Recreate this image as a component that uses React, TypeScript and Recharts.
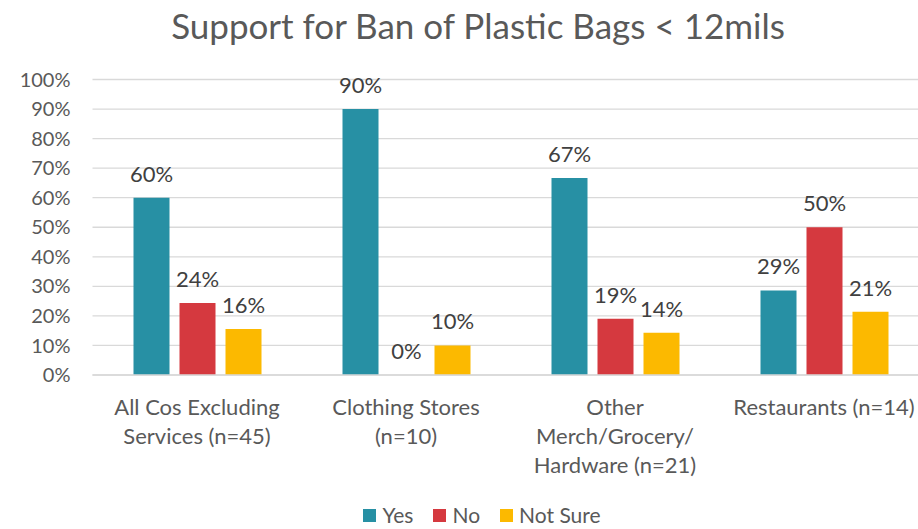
import React from "react";
import { BarChart, Bar, XAxis, YAxis, CartesianGrid, Legend, LabelList } from "recharts";

const categories = [
  "All Cos Excluding Services (n=45)",
  "Clothing Stores (n=10)",
  "Other Merch/Grocery/Hardware (n=21)",
  "Restaurants (n=14)",
];
const categoryLines = [
  ["All Cos Excluding", "Services (n=45)"],
  ["Clothing Stores", "(n=10)"],
  ["Other", "Merch/Grocery/", "Hardware (n=21)"],
  ["Restaurants (n=14)"],
];
const yesValues = [0.6, 0.9, 0.667, 0.286];
const noValues = [0.244, 0, 0.19, 0.5];
const notSureValues = [0.156, 0.1, 0.143, 0.214];
const yTicks = [0, 0.1, 0.2, 0.3, 0.4, 0.5, 0.6, 0.7, 0.8, 0.9, 1];
const seriesNames = ["Yes", "No", "Not Sure"];
const seriesColors = ["#2790A4", "#D5393F", "#FCB900"];

const data = categories.map((c, i) => ({
  name: c,
  yes: yesValues[i],
  no: noValues[i],
  notSure: notSureValues[i],
}));

const FONT = "Lato, 'Open Sans', sans-serif";
const pct = (v: number) => `${Math.round(v * 100)}%`;

const XTick = (props: any) => {
  const { x, y, payload } = props;
  const idx = categories.indexOf(payload.value);
  const lines = categoryLines[idx] || [payload.value];
  return (
    <text x={x} y={y + 32} textAnchor="middle" fill="#595959" fontSize={22} fontFamily={FONT}>
      {lines.map((l, i) => (
        <tspan key={i} x={x} dy={i === 0 ? 0 : 29}>
          {l}
        </tspan>
      ))}
    </text>
  );
};

const LegendContent = () => (
  <div
    style={{
      display: "flex",
      justifyContent: "center",
      fontFamily: FONT,
      fontSize: 21,
      lineHeight: "24px",
      color: "#595959",
    }}
  >
    {seriesNames.map((n, i) => (
      <div key={n} style={{ display: "flex", alignItems: "center", marginRight: i < 2 ? 20 : 0 }}>
        <span style={{ display: "inline-block", width: 13, height: 13, background: seriesColors[i], marginRight: 6 }} />
        <span>{n}</span>
      </div>
    ))}
  </div>
);

const labelProps = {
  position: "top" as const,
  offset: 16,
  formatter: pct,
  fill: "#404040",
  fontSize: 22,
  fontFamily: FONT,
};

export default function App() {
  return (
    <div style={{ position: "absolute", left: 0, top: 0, width: 918, height: 529, overflow: "hidden", background: "#fff" }}>
      <div
        style={{
          position: "absolute",
          left: 0,
          top: 4,
          width: 956,
          textAlign: "center",
          fontFamily: FONT,
          fontSize: 35,
          color: "#595959",
        }}
      >
        Support for Ban of Plastic Bags &lt; 12mils
      </div>
      <BarChart
        width={930}
        height={529}
        data={data}
        margin={{ top: 79.5, right: 1.5, bottom: 0, left: 0 }}
        barSize={36}
        barGap={10}
      >
        <CartesianGrid vertical={false} stroke="#D9D9D9" strokeWidth={1.3} />
        <XAxis
          dataKey="name"
          tick={<XTick />}
          tickLine={false}
          axisLine={{ stroke: "#D9D9D9", strokeWidth: 1.3 }}
          interval={0}
          height={154}
        />
        <YAxis
          width={92.5}
          domain={[0, 1]}
          ticks={yTicks}
          interval={0}
          tickFormatter={pct}
          axisLine={false}
          tickLine={false}
          tickSize={0}
          tickMargin={22}
          tick={{ fill: "#595959", fontSize: 20, fontFamily: FONT }}
        />
        <Legend
          content={<LegendContent />}
          wrapperStyle={{ position: "absolute", top: 503, left: 23, width: 918, height: 0 }}
        />
        <Bar dataKey="yes" name="Yes" fill={seriesColors[0]} isAnimationActive={false} minPointSize={0.01}>
          <LabelList dataKey="yes" {...labelProps} />
        </Bar>
        <Bar dataKey="no" name="No" fill={seriesColors[1]} isAnimationActive={false} minPointSize={0.01}>
          <LabelList dataKey="no" {...labelProps} />
        </Bar>
        <Bar dataKey="notSure" name="Not Sure" fill={seriesColors[2]} isAnimationActive={false} minPointSize={0.01}>
          <LabelList dataKey="notSure" {...labelProps} />
        </Bar>
      </BarChart>
    </div>
  );
}
